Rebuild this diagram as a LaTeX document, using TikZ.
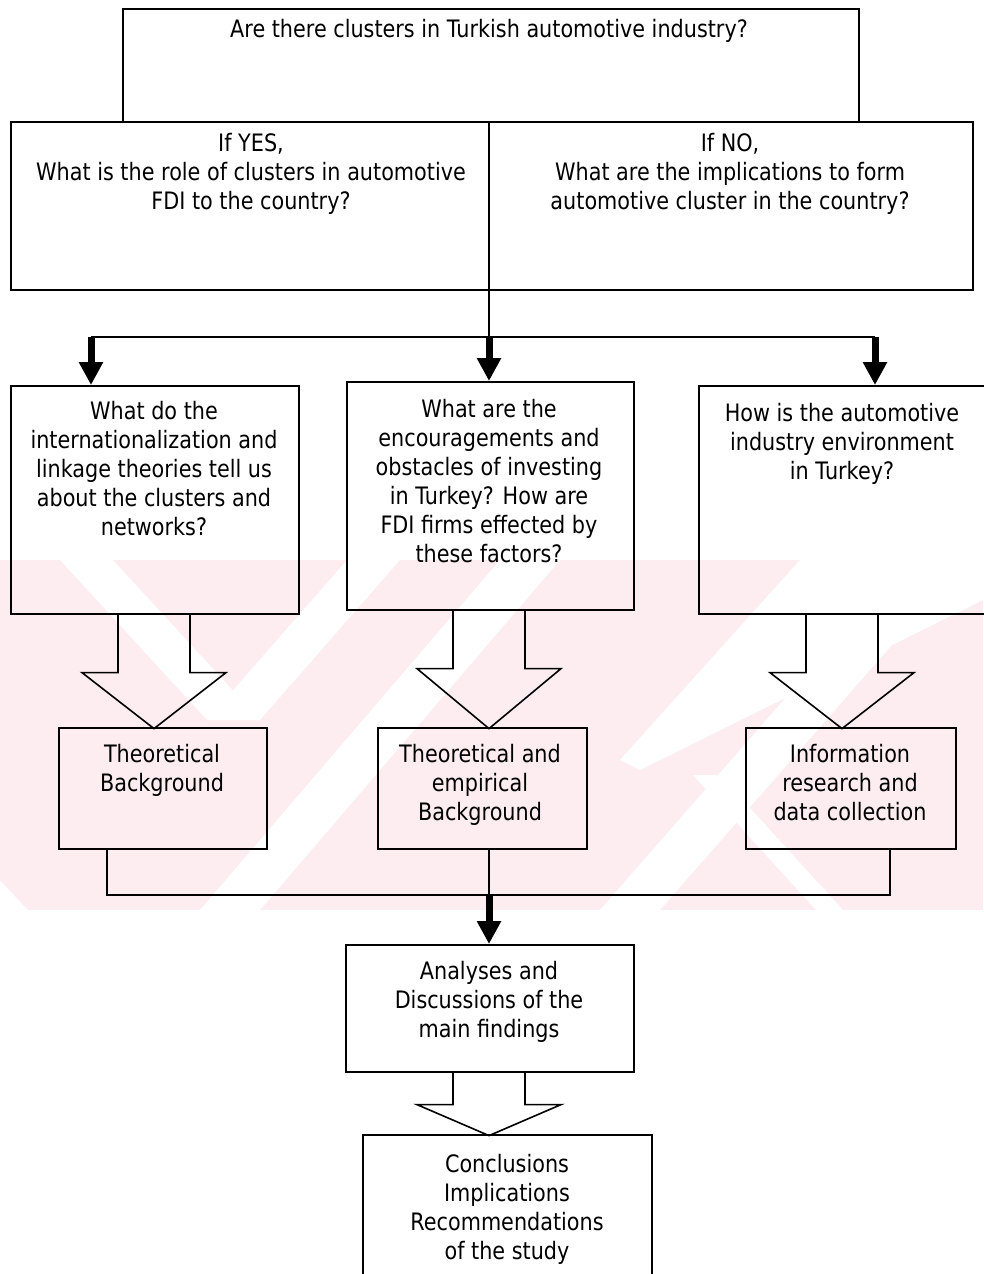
\documentclass[tikz,border=0pt]{standalone}
\usepackage{fontspec}
\setmainfont{DejaVu Sans}[FakeStretch=0.865]
\usetikzlibrary{arrows.meta}
\definecolor{wm}{RGB}{253,237,240}
\tikzset{
  box/.style={draw=black, line width=1.6pt, rectangle, inner sep=0pt},
  lbl/.style={anchor=north, align=center, inner sep=0pt, font=\fontsize{24}{29}\selectfont},
  thin/.style={draw=black, line width=1.6pt},
  fat/.style={draw=black, line width=7pt, -{Triangle[width=23pt,length=23pt]}},
  outl/.style={draw=black, line width=1.6pt, line join=miter},
}
\newcommand\barrow[3]{\draw[outl] (#1) ++(-36,0) -- ++(0,#2) -- ++(-36,0) -- ++(72,#3) -- ++(72,-#3) -- ++(-36,0) -- ++(0,-#2);}
\begin{document}
\begin{tikzpicture}[x=1pt,y=-1pt]
\useasboundingbox (0,0) rectangle (983,1274);
\fill[white] (0,0) rectangle (983,1274);
% watermark (approximate)
\begin{scope}
\clip (0,560) -- (983,560) -- (983,910) -- (28,910) -- (0,880) -- cycle;
\fill[wm] (0,560) rectangle (983,910);
\fill[white] (60,560) -- (113,560) -- (260,720) -- (207,720) -- cycle;
\fill[white] (207,720) -- (260,720) -- (400,560) -- (347,560) -- cycle;
\fill[white] (200,910) -- (260,910) -- (560,560) -- (500,560) -- cycle;
\fill[white] (800,560) -- (983,560) -- (983,600) -- (640,770) -- (620,760) -- cycle;
\fill[white] (693,775) -- (720,775) -- (843,910) -- (816,910) -- cycle;
\fill[white] (600,910) -- (660,910) -- (940,590) -- (880,590) -- cycle;
\end{scope}
% boxes
\node[box, anchor=north west, minimum width=736pt, minimum height=113pt] (top) at (122,8) {};
\node[box, anchor=north west, minimum width=962pt, minimum height=168pt] (mid) at (10,121) {};
\node[box, anchor=north west, minimum width=288pt, minimum height=228pt] (b1) at (10,385) {};
\node[box, anchor=north west, minimum width=287pt, minimum height=228pt] (b2) at (346,381) {};
\node[box, anchor=north west, minimum width=290pt, minimum height=228pt] (b3) at (698,385) {};
\node[box, anchor=north west, minimum width=208pt, minimum height=121pt] (c1) at (58,727) {};
\node[box, anchor=north west, minimum width=209pt, minimum height=121pt] (c2) at (377,727) {};
\node[box, anchor=north west, minimum width=210pt, minimum height=121pt] (c3) at (745,727) {};
\node[box, anchor=north west, minimum width=288pt, minimum height=127pt] (d) at (345,944) {};
\node[box, anchor=north west, minimum width=289pt, minimum height=160pt] (e) at (362,1134) {};
% texts
\node[lbl] (t0) at (489,19.5) {Are there clusters in Turkish automotive industry?};
\node[lbl] (tyes) at (251,133) {If YES,\\What is the role of clusters in automotive\\FDI to the country?};
\node[lbl] (tno) at (730,133) {If NO,\\What are the implications to form\\automotive cluster in the country?};
\node[lbl] (tb1) at (154,401) {What do the\\internationalization and\\linkage theories tell us\\about the clusters and\\networks?};
\node[lbl] (tb2) at (489,399) {What are the\\encouragements and\\obstacles of investing\\in Turkey? How are\\FDI firms effected by\\these factors?};
\node[lbl] (tb3) at (842,403) {How is the automotive\\industry environment\\in Turkey?};
\node[lbl] (tc1) at (162,744) {Theoretical\\Background};
\node[lbl] (tc2) at (480,744) {Theoretical and\\empirical\\Background};
\node[lbl] (tc3) at (850,744) {Information\\research and\\data collection};
\node[lbl] (td) at (489,961) {Analyses and\\Discussions of the\\main findings};
\node[lbl] (te) at (507,1154) {Conclusions\\Implications\\Recommendations\\of the study};
% connectors
\coordinate (split) at (489,337);
\coordinate (xa) at (91,0);
\coordinate (xc) at (875,0);
\draw[thin] (mid.north -| split) -- (split);
\draw[thin] (split -| xa) -- (split -| xc);
\draw[fat] (split -| xa) -- (b1.north -| xa);
\draw[fat] (split) -- (b2.north -| split);
\draw[fat] (split -| xc) -- (b3.north -| xc);
\barrow{b1.south -| 154,0}{58}{56}
\barrow{b2.south -| 489,0}{58}{60}
\barrow{b3.south -| 842,0}{58}{56}
\coordinate (j) at (489,895);
\coordinate (xl) at (107,0);
\coordinate (xr) at (890,0);
\draw[thin] (c1.south -| xl) |- (j) -| (c3.south -| xr);
\draw[thin] (c2.south -| j) -- (j);
\draw[fat] (j) -- (d.north -| j);
\barrow{d.south -| 489,0}{32}{31}
\end{tikzpicture}
\end{document}
